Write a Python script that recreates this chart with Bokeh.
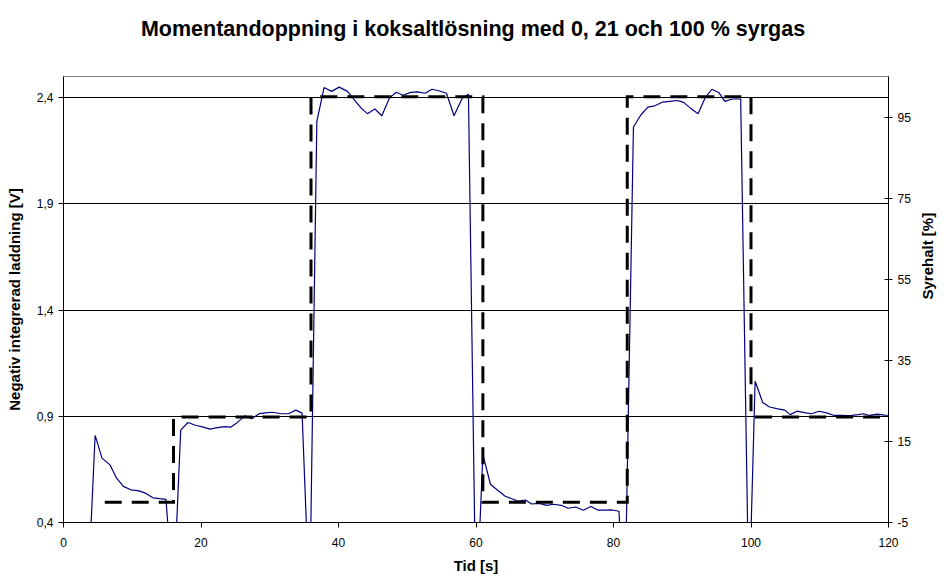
import math
from bokeh.plotting import figure
from bokeh.models import Range1d, LinearAxis, FixedTicker, Title
from bokeh.embed import file_html
from bokeh.resources import INLINE

# ---- data ----
title_text = "Momentandoppning i koksaltlösning med 0, 21 och 100 %  syrgas"
x_label = "Tid [s]"
y_label = "Negativ integrerad laddning [V]"
y2_label = "Syrehalt [%]"

time_s = [3.6, 4.6, 5.6, 6.8, 7.7, 8.7, 9.8, 11.0, 12.0, 13.0, 14.0, 14.9, 16.0,
          17.05, 18.1, 19.2, 20.2, 21.3, 22.4, 23.4, 24.3, 25.2, 26.4, 27.4, 28.5,
          29.4, 30.4, 31.7, 32.8, 33.8, 34.7, 35.8,
          36.85, 37.9, 39.0, 40.1, 41.3, 42.3, 43.3, 44.2, 45.3, 46.3, 47.4, 48.4,
          49.4, 50.5, 51.5, 52.6, 53.6, 54.6, 55.7, 56.8, 58.0, 58.9, 60.0,
          61.0, 62.1, 63.1, 64.2, 65.1, 66.1, 67.2, 68.1, 69.2, 70.3, 71.3, 72.4,
          73.4, 74.5, 75.6, 76.7, 77.8, 78.8, 79.8, 80.8, 81.6,
          82.9, 84.0, 85.0, 86.0, 87.1, 88.2, 89.3, 90.2, 91.2, 92.3, 93.3, 94.3,
          95.3, 96.2, 97.3, 98.5, 99.7,
          100.6, 101.7, 102.7, 103.9, 104.9, 105.7, 106.7, 108.0, 108.8, 109.9,
          111.0, 112.1, 113.0, 114.0, 114.7, 115.6, 116.4, 117.2, 118.4, 119.4, 120.0]
charge_v = [0.10, 0.81, 0.703, 0.670, 0.610, 0.570, 0.554, 0.549, 0.537, 0.516, 0.512, 0.509, 0.05,
            0.835, 0.871, 0.858, 0.850, 0.840, 0.847, 0.851, 0.849, 0.869, 0.902, 0.889, 0.913,
            0.916, 0.919, 0.912, 0.913, 0.929, 0.915, 0.0,
            2.289, 2.448, 2.430, 2.450, 2.430, 2.390, 2.351, 2.325, 2.347, 2.315, 2.398, 2.426,
            2.412, 2.425, 2.428, 2.421, 2.440, 2.433, 2.421, 2.315, 2.398, 2.417, -0.05,
            0.721, 0.580, 0.553, 0.525, 0.513, 0.501, 0.506, 0.487, 0.490, 0.481, 0.486, 0.481,
            0.467, 0.473, 0.458, 0.475, 0.458, 0.458, 0.459, 0.453, -0.1,
            2.262, 2.320, 2.356, 2.362, 2.379, 2.383, 2.387, 2.378, 2.351, 2.325, 2.398, 2.440,
            2.425, 2.383, 2.394, 2.394, 0.0,
            1.065, 0.965, 0.944, 0.935, 0.929, 0.908, 0.924, 0.916, 0.912, 0.924,
            0.916, 0.904, 0.904, 0.903, 0.904, 0.908, 0.912, 0.904, 0.910, 0.906, 0.905]

o2_time = [6, 16, 16, 36, 36, 61, 61, 82, 82, 100, 100, 120]
o2_pct = [0, 0, 21, 21, 100, 100, 0, 0, 100, 100, 21, 21]

x_ticks = [0, 20, 40, 60, 80, 100, 120]
y_ticks = [0.4, 0.9, 1.4, 1.9, 2.4]
y_tick_labels = ["0,4", "0,9", "1,4", "1,9", "2,4"]
y2_ticks = [-5, 15, 35, 55, 75, 95]
y2_tick_labels = ["-5", "15", "35", "55", "75", "95"]

FONT = "Liberation Sans"

p = figure(width=947, height=576, output_backend="svg", toolbar_location=None,
           x_range=Range1d(0, 120), y_range=Range1d(0.4, 2.5),
           min_border_left=63, min_border_right=56, min_border_top=76, min_border_bottom=53,
           background_fill_color="white", border_fill_color="white")
p.extra_y_ranges = {"o2": Range1d(-5, 105)}

# spacer (closest to the frame) and the real title above it
p.add_layout(Title(text=" ", text_font_size="2px", standoff=32), "above")
p.add_layout(Title(text=title_text, align="center", text_font=FONT, text_font_size="21.5px",
                   text_font_style="bold", text_color="black", standoff=0), "above")

p.outline_line_color = "#808080"
p.outline_line_width = 1

p.xgrid.visible = False
p.ygrid.ticker = FixedTicker(ticks=y_ticks)
p.ygrid.grid_line_color = "black"
p.ygrid.grid_line_width = 1

xa = p.xaxis[0]
xa.ticker = FixedTicker(ticks=x_ticks)
xa.axis_label = x_label
ya = p.yaxis[0]
ya.ticker = FixedTicker(ticks=y_ticks)
ya.major_label_overrides = dict(zip(y_ticks, y_tick_labels))
ya.axis_label = y_label

# right axis with ticks and tick labels
ya2 = LinearAxis(y_range_name="o2", ticker=FixedTicker(ticks=y2_ticks))
ya2.major_label_overrides = dict(zip(y2_ticks, y2_tick_labels))
p.add_layout(ya2, "right")

# outer right axis that only carries the title of the right scale
ya3 = LinearAxis(y_range_name="o2", ticker=FixedTicker(ticks=[]), axis_label=y2_label,
                 bounds=(-5, 89))
ya3.axis_label_orientation = math.pi / 2
ya3.axis_line_color = None
ya3.major_tick_out = 0
ya3.major_tick_in = 0
ya3.major_label_standoff = 0
ya3.minor_tick_line_color = None
p.add_layout(ya3, "right")

for ax in (xa, ya, ya2):
    ax.axis_line_color = "black"
    ax.axis_line_width = 1
    ax.major_tick_line_color = "black"
    ax.minor_tick_line_color = None
    ax.major_tick_out = 5
    ax.major_tick_in = 0
    ax.major_label_text_font = FONT
    ax.major_label_text_font_size = "12px"
    ax.major_label_text_color = "black"
for ax in (xa, ya, ya3):
    ax.axis_label_text_font = FONT
    ax.axis_label_text_font_size = "15px"
    ax.axis_label_text_font_style = "bold"
    ax.axis_label_text_color = "black"
ya2.major_tick_in = 4
ya2.major_tick_out = 4
ya2.major_label_standoff = 5
ya3.axis_label_standoff = 14
xa.major_label_standoff = 10
xa.axis_label_standoff = 7
ya.axis_label_standoff = 11

p.line(time_s, charge_v, line_color="#000080", line_width=1.2)
p.line(o2_time, o2_pct, y_range_name="o2", line_color="black", line_width=3,
       line_dash="17 10", line_join="miter", line_cap="butt")

open("out.html", "w").write(file_html(p, INLINE))
